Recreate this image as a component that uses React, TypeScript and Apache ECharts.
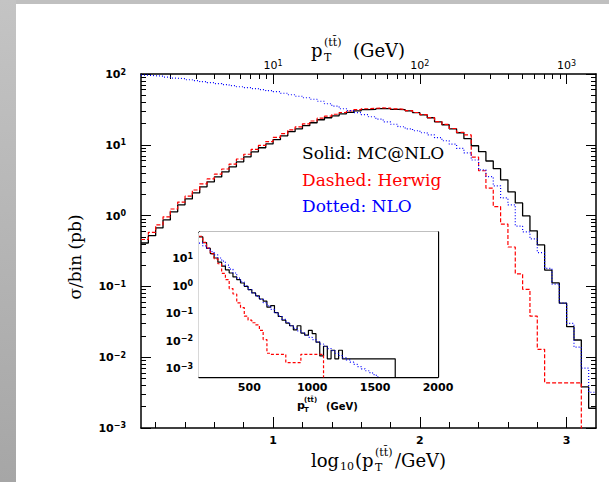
import React, { useEffect, useRef } from 'react';
import * as echarts from 'echarts';

// ---- Main plot: histogram bins in log10(pT/GeV) ----
const mainLogStart = 0.1;
const mainBinWidth = 0.05;
// sigma/bin (pb), 62 bins from 0.1 to 3.2
const mainMcAtNlo = [
  0.41, 0.52, 0.67, 0.87, 1.13, 1.42, 1.72, 2.09, 2.55, 3.0,
  3.52, 4.15, 4.89, 5.74, 6.76, 7.96, 9.08, 10.3, 11.8, 13.4,
  15.3, 16.8, 18.6, 20.5, 22.6, 24.1, 25.7, 27.4, 28.8, 30.2,
  31.3, 31.6, 32.4, 32.4, 31.6, 31.3, 30.2, 28.4, 26.5, 24.1,
  21.1, 19.2, 16.8, 14.8, 12.2, 9.7, 8.0, 5.9, 4.6, 3.2,
  2.16, 1.51, 0.99, 0.61, 0.385, 0.17, 0.112, 0.058, 0.027, 0.0175, 0.0038, 0.0019,
];
const mainHerwig = [
  0.46, 0.58, 0.74, 0.96, 1.24, 1.55, 1.88, 2.3, 2.8, 3.3,
  3.85, 4.55, 5.35, 6.3, 7.35, 8.6, 9.8, 11.1, 12.7, 14.4,
  16.3, 17.9, 19.8, 21.7, 23.8, 25.4, 27.0, 28.6, 30.0, 31.3,
  32.3, 32.8, 33.2, 33.0, 32.2, 31.6, 30.4, 28.6, 26.6, 24.2,
  21.3, 19.4, 17.0, 15.0, 13.8, 6.7, 4.3, 2.44, 1.34, 0.76,
  0.36, 0.15, 0.091, 0.038, 0.0129, 0.00435, 0.00435, 0.00435, 0.00435, 0.00435, 0.0001, 0.0001,
];
const mainNlo = [
  96.2, 94.6, 93.1, 90.1, 87.2, 85.8, 83.0, 80.4, 77.8, 75.3,
  72.9, 70.6, 68.3, 66.1, 64.0, 62.0, 60.0, 58.1, 56.2, 53.5,
  50.9, 48.5, 46.2, 44.0, 41.2, 38.0, 35.1, 32.3, 30.3, 28.4,
  26.6, 24.9, 23.0, 21.1, 19.5, 18.0, 16.8, 15.8, 14.8, 13.8,
  12.6, 11.4, 10.2, 8.9, 7.7, 6.1, 4.43, 3.56, 2.63, 1.78,
  1.42, 0.71, 0.59, 0.47, 0.30, 0.18, 0.108, 0.058, 0.030, 0.0139, 0.0070, 0.0032,
];

// ---- Inset: pT in GeV ----
const insetStart = 100;
const insetBinWidth = 30;
const insetMcAtNlo = [
  60, 37, 23, 14.8, 10.2, 7.2, 5.2, 3.8, 2.9, 2.1,
  1.66, 1.26, 0.95, 0.72, 0.55, 0.43, 0.33, 0.275, 0.166, 0.19,
  0.105, 0.076, 0.056, 0.044, 0.035, 0.025, 0.035, 0.019, 0.016, 0.024,
  0.018, 0.0089, 0.0028, 0.0063, 0.0022, 0.0045, 0.0022, 0.0045,
  0.0022, 0.0022, 0.0022, 0.0022, 0.0022, 0.0022, 0.0022, 0.0022, 0.0022, 0.0022,
  0.0022, 0.0022, 0.0022, 0.0022,
];
const insetHerwig = [
  63, 38, 23.4, 14.5, 9.5, 6.3, 2.8, 1.66, 0.79, 0.50,
  0.24, 0.16, 0.079, 0.056, 0.045, 0.038, 0.024, 0.011, 0.0035, 0.0032,
  0.0032, 0.0032, 0.0032, 0.0016, 0.0016, 0.0016, 0.0016, 0.0032, 0.0032, 0.0032,
  0.0032, 0.0032, 0.0032,
];
const insetNlo = [
  35.5, 28.2, 22.9, 17.4, 13.2, 10.2, 7.8, 5.6, 4.0, 2.9,
  1.9, 1.38, 1.0, 0.72, 0.55, 0.42, 0.32, 0.245, 0.186, 0.138,
  0.105, 0.079, 0.060, 0.046, 0.035, 0.028, 0.023, 0.0195, 0.0158, 0.0132,
  0.011, 0.0091, 0.0076, 0.0063, 0.0052, 0.0044, 0.0035, 0.0029, 0.0024, 0.0020,
  0.00166, 0.00138, 0.00115, 0.00095, 0.00081, 0.00069, 0.00059, 0.00049,
];

// ---- Axis tick labels ----
const mainXLabels = [1, 2, 3];
const mainYDecades = [0.001, 0.01, 0.1, 1, 10, 100];
const topDecades = [10, 100, 1000];
const insetXLabels = [500, 1000, 1500, 2000];
const insetYDecades = [0.001, 0.01, 0.1, 1, 10];

const SERIF = 'DejaVu Serif';
const SANS = 'DejaVu Sans';
const TT = '(tt\u0304)';

function histPoints(start: number, width: number, vals: number[], dropTo?: number) {
  const pts: number[][] = vals.map((v, i) => [start + width * i, v]);
  const end = start + width * vals.length;
  pts.push([end, vals[vals.length - 1]]);
  if (dropTo !== undefined) pts.push([end, dropTo]);
  return pts;
}

function logMinors(lo: number, hi: number) {
  const out: number[] = [];
  for (let d = -5; d <= 4; d++) {
    for (let m = 2; m <= 9; m++) {
      const v = m * Math.pow(10, d);
      if (v > lo && v < hi) out.push(v);
    }
  }
  return out;
}

function linMinors(lo: number, hi: number, step: number, majorStep: number) {
  const out: number[] = [];
  for (let v = Math.ceil(lo / step) * step; v <= hi + 1e-9; v += step) {
    const r = Math.round(v * 1000) / 1000;
    if (r <= lo || r >= hi) continue;
    if (Math.abs(r / majorStep - Math.round(r / majorStep)) < 1e-6) continue;
    out.push(r);
  }
  return out;
}

const nudge = (arr: number[], lo: number, hi: number) =>
  arr.map((v) => (Math.abs(v - lo) / v < 1e-6 ? v * 1.00001 : Math.abs(v - hi) / v < 1e-6 ? v * 0.99999 : v));

const powLabel = (v: number) => {
  const e = Math.round(Math.log10(v));
  return `{b|10}{s|${e < 0 ? '\u2212' + -e : e}}`;
};

const powRich = (weight: string, size: number, sup: number) => ({
  b: { fontFamily: SANS, fontWeight: weight, fontSize: size, color: '#000', verticalAlign: 'bottom', lineHeight: size + 1 },
  s: { fontFamily: SANS, fontWeight: weight, fontSize: sup, color: '#000', verticalAlign: 'top', lineHeight: sup + 1, padding: [0, 0, 5, 0] },
});

const txt = (text: string, x: number, y: number, size: number, o: any = {}) => ({
  type: 'text',
  x,
  y,
  rotation: o.rotation || 0,
  silent: true,
  z: 100,
  style: {
    text,
    fontSize: size,
    fontFamily: o.family || SERIF,
    fontWeight: o.weight || 'normal',
    fill: o.color || '#000',
    align: o.align || 'left',
    verticalAlign: 'middle',
  },
});

export default function App() {
  const ref = useRef<HTMLDivElement>(null);

  useEffect(() => {
    document.body.style.margin = '0';
    if (!ref.current) return;
    const chart = echarts.init(ref.current, null, { renderer: 'svg' });

    const mXmin = 0.1, mXmax = 3.2;
    const mYmin = 0.001, mYmax = 100;
    const tMin = Math.pow(10, mXmin), tMax = Math.pow(10, mXmax);
    const iXmin = 100, iXmax = 2000;
    const iYmin = 4.8e-4, iYmax = 90;

    const frame = { show: true, lineStyle: { color: '#000', width: 1.5 } };
    const iframe = { show: true, lineStyle: { color: '#000', width: 1.3 } };
    const noLine = { show: false };
    const tick = (len: number, values: number[], width = 1) => ({
      show: true, inside: true, length: len, customValues: values, lineStyle: { color: '#000', width },
    });
    const noLabel = { show: false };

    const xAxis: any[] = [
      // main bottom
      {
        gridIndex: 0, type: 'value', min: mXmin, max: mXmax, position: 'bottom',
        axisLine: frame, splitLine: { show: false },
        axisTick: tick(11, mainXLabels),
        axisLabel: {
          customValues: mainXLabels, margin: 7, color: '#000', fontFamily: SANS, fontWeight: 'bold', fontSize: 11,
          formatter: (v: number) => String(v),
        },
      },
      {
        gridIndex: 0, type: 'value', min: mXmin, max: mXmax, position: 'bottom',
        axisLine: noLine, splitLine: { show: false },
        axisTick: tick(6, linMinors(mXmin, mXmax, 0.2, 1)), axisLabel: noLabel,
      },
      // main top (pT in GeV, log)
      {
        gridIndex: 0, type: 'log', logBase: 10, min: tMin, max: tMax, position: 'top',
        axisLine: frame, splitLine: { show: false },
        axisTick: tick(10, topDecades),
        axisLabel: { customValues: topDecades, margin: 3, formatter: powLabel, rich: powRich('normal', 11, 8) },
      },
      {
        gridIndex: 0, type: 'log', logBase: 10, min: tMin, max: tMax, position: 'top',
        axisLine: noLine, splitLine: { show: false },
        axisTick: tick(5, logMinors(tMin, tMax)), axisLabel: noLabel,
      },
      // inset bottom
      {
        gridIndex: 1, type: 'value', min: iXmin, max: iXmax, position: 'bottom',
        axisLine: iframe, splitLine: { show: false },
        axisTick: tick(6, insetXLabels),
        axisLabel: {
          customValues: nudge(insetXLabels, iXmin, iXmax), margin: 5, color: '#000', fontFamily: SANS, fontWeight: 'bold', fontSize: 11,
          formatter: (v: number) => String(Math.round(v)),
        },
      },
      {
        gridIndex: 1, type: 'value', min: iXmin, max: iXmax, position: 'bottom',
        axisLine: noLine, splitLine: { show: false },
        axisTick: tick(3, linMinors(iXmin, iXmax, 100, 500)), axisLabel: noLabel,
      },
      {
        gridIndex: 1, type: 'value', min: iXmin, max: iXmax, position: 'top',
        axisLine: iframe, splitLine: { show: false }, axisTick: { show: false }, axisLabel: noLabel,
      },
    ];

    const yAxis: any[] = [
      {
        gridIndex: 0, type: 'log', logBase: 10, min: mYmin, max: mYmax, position: 'left',
        axisLine: frame, splitLine: { show: false },
        axisTick: tick(10, nudge(mainYDecades, mYmin, mYmax)),
        axisLabel: { customValues: nudge(mainYDecades, mYmin, mYmax), margin: 15, formatter: powLabel, rich: powRich('bold', 11, 8) },
      },
      {
        gridIndex: 0, type: 'log', logBase: 10, min: mYmin, max: mYmax, position: 'left',
        axisLine: noLine, splitLine: { show: false },
        axisTick: tick(5, logMinors(mYmin, mYmax)), axisLabel: noLabel,
      },
      {
        gridIndex: 0, type: 'log', logBase: 10, min: mYmin, max: mYmax, position: 'right',
        axisLine: frame, splitLine: { show: false },
        axisTick: tick(10, nudge(mainYDecades, mYmin, mYmax)), axisLabel: noLabel,
      },
      {
        gridIndex: 0, type: 'log', logBase: 10, min: mYmin, max: mYmax, position: 'right',
        axisLine: noLine, splitLine: { show: false },
        axisTick: tick(5, logMinors(mYmin, mYmax)), axisLabel: noLabel,
      },
      // inset
      {
        gridIndex: 1, type: 'log', logBase: 10, min: iYmin, max: iYmax, position: 'left',
        axisLine: iframe, splitLine: { show: false },
        axisTick: tick(5, insetYDecades),
        axisLabel: { customValues: insetYDecades, margin: 6, formatter: powLabel, rich: powRich('bold', 11, 8) },
      },
      {
        gridIndex: 1, type: 'log', logBase: 10, min: iYmin, max: iYmax, position: 'left',
        axisLine: noLine, splitLine: { show: false },
        axisTick: tick(2.5, logMinors(iYmin, iYmax)), axisLabel: noLabel,
      },
      {
        gridIndex: 1, type: 'log', logBase: 10, min: iYmin, max: iYmax, position: 'right',
        axisLine: iframe, splitLine: { show: false },
        axisTick: tick(5, insetYDecades), axisLabel: noLabel,
      },
      {
        gridIndex: 1, type: 'log', logBase: 10, min: iYmin, max: iYmax, position: 'right',
        axisLine: noLine, splitLine: { show: false },
        axisTick: tick(2.5, logMinors(iYmin, iYmax)), axisLabel: noLabel,
      },
    ];

    const line = (data: number[][], color: string, type: any, width: number, xi: number, yi: number, z: number) => ({
      type: 'line', step: 'end', data, xAxisIndex: xi, yAxisIndex: yi, showSymbol: false, symbol: 'none',
      clip: true, silent: true, z,
      lineStyle: { color, width, type, cap: 'butt' },
    });

    const option: any = {
      animation: false,
      backgroundColor: '#fff',
      grid: [
        { left: 141, top: 74, right: 13, bottom: 54, outerBoundsMode: 'none', containLabel: false },
        { left: 199, top: 232, right: 171, bottom: 105, outerBoundsMode: 'none', containLabel: false, show: true, backgroundColor: '#fff', borderWidth: 0, z: 5 },
      ],
      xAxis,
      yAxis,
      series: [
        line(histPoints(mainLogStart, mainBinWidth, mainMcAtNlo), '#000', 'solid', 1.3, 0, 0, 2),
        line(histPoints(mainLogStart, mainBinWidth, mainHerwig), '#ff0000', [4, 2], 1.2, 0, 0, 3),
        line(histPoints(mainLogStart, mainBinWidth, mainNlo), '#0000ff', [1, 2], 1.2, 0, 0, 4),
        line(histPoints(insetStart, insetBinWidth, insetMcAtNlo, 1e-7), '#000', 'solid', 1.2, 4, 4, 6),
        line(histPoints(insetStart, insetBinWidth, insetHerwig, 1e-7), '#ff0000', [3, 2], 1.2, 4, 4, 7),
        line(histPoints(insetStart, insetBinWidth, insetNlo), '#0000ff', [1, 2], 1.2, 4, 4, 8),
      ],
      graphic: [
        { type: 'rect', silent: true, z: 100, shape: { x: 0, y: 0, width: 609, height: 4 }, style: { fill: '#c0c0c0' } },
        {
          type: 'rect', silent: true, z: 100, shape: { x: 0, y: 0, width: 16, height: 482 },
          style: { fill: new echarts.graphic.LinearGradient(0, 0, 0, 1, [{ offset: 0, color: '#c4c4c4' }, { offset: 1, color: '#a6a6a6' }]) },
        },
        // top title
        txt('p', 311, 50, 18),
        txt(TT, 324, 42, 11),
        txt('T', 324, 57, 11),
        txt('(GeV)', 353, 50, 18),
        // bottom title
        txt('log', 311, 460, 18),
        txt('10', 340, 466, 11),
        txt('(p', 355, 460, 18),
        txt(TT, 375, 452, 11),
        txt('T', 375, 467, 11),
        txt('/GeV)', 395, 460, 18),
        // y title
        txt('\u03c3/bin (pb)', 75, 257, 17, { rotation: Math.PI / 2, align: 'center' }),
        // legend texts
        txt('Solid: MC@NLO', 302, 153, 17),
        txt('Dashed: Herwig', 302, 180, 17, { color: '#ff0000' }),
        txt('Dotted: NLO', 302, 206, 17, { color: '#0000ff' }),
        // inset title
        txt('p', 297, 405, 11, { family: SANS, weight: 'bold' }),
        txt(TT, 304, 400, 7, { family: SANS, weight: 'bold' }),
        txt('T', 304, 410, 7, { family: SANS, weight: 'bold' }),
        txt('(GeV)', 326, 406, 10, { family: SANS, weight: 'bold' }),
      ],
    };

    chart.setOption(option);
    return () => chart.dispose();
  }, []);

  return <div ref={ref} style={{ width: 609, height: 482 }} />;
}
